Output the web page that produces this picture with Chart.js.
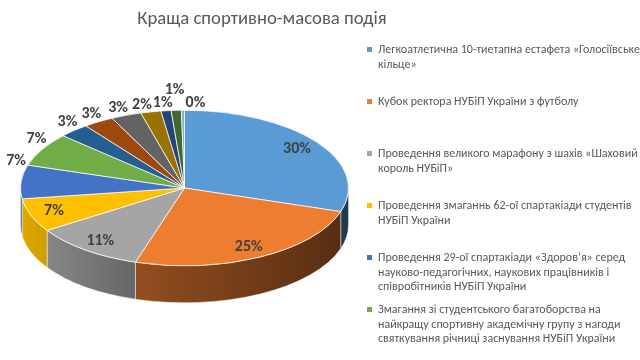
<!DOCTYPE html>
<html>
<head>
<meta charset="utf-8">
<script src="https://cdn.jsdelivr.net/npm/chart.js@4.4.0/dist/chart.umd.min.js"></script>
<style>
  html, body { margin: 0; padding: 0; background: #fff; }
  #wrap { position: relative; width: 640px; height: 360px; overflow: hidden; }
  #legend { position: absolute; left: 367px; top: 42px; width: 276px; font-family: Carlito, Roboto, sans-serif; font-size: 12px; color: #595959; }
  .item { position: relative; height: 52px; padding-left: 11px; line-height: 14.5px; }
  .item i { position: absolute; left: 0; top: 5px; width: 5px; height: 5px; }
</style>
</head>
<body>
<div id="wrap">
  <canvas id="chart" width="640" height="360"></canvas>
  <div id="legend"></div>
</div>
<script>
const title = 'Краща спортивно-масова подія';
const categories = [
  'Легкоатлетична 10-тиетапна естафета «Голосіївське кільце»',
  'Кубок ректора НУБіП України з футболу',
  'Проведення великого марафону з шахів «Шаховий король НУБіП»',
  'Проведення змаганнь 62-ої спартакіади студентів НУБіП України',
  'Проведення 29-ої спартакіади «Здоров’я» серед науково-педагогічних, наукових працівників і співробітників НУБіП України',
  'Змагання зі студентського багатоборства на найкращу спортивну академічну групу з нагоди святкування річниці заснування НУБіП України',
  'Подія 7', 'Подія 8', 'Подія 9', 'Подія 10', 'Подія 11', 'Подія 12', 'Подія 13'
];
const values = [30, 25, 11, 7, 7, 7, 3, 3, 3, 2, 1, 1, 0.3];
const colors = ['#5B9BD5', '#ED7D31', '#A5A5A5', '#FFC000', '#4472C4', '#70AD47',
                '#255E91', '#9E480E', '#636363', '#997300', '#264478', '#43682B', '#7CAFDD'];
const legendCount = 6; // the legend box only fits the first six entries

const TILT = 0.474;   // ellipse height / width of the top face
const FACE_CY = 188;  // screen y of the pie centre
const DEPTH = 37;     // thickness of the pie side

function shade(hex, f) {
  const n = parseInt(hex.slice(1), 16);
  const r = Math.round(((n >> 16) & 255) * f);
  const g = Math.round(((n >> 8) & 255) * f);
  const b = Math.round((n & 255) * f);
  return 'rgb(' + r + ',' + g + ',' + b + ')';
}

// draws the side walls, then squashes the library's pie into an ellipse
const pie3d = {
  id: 'pie3d',
  beforeDatasetsDraw(chart) {
    const ctx = chart.ctx;
    const arcs = chart.getDatasetMeta(0).data;
    const cx = arcs[0].x, cy = arcs[0].y, r = arcs[0].outerRadius;
    const ry = r * TILT;
    arcs.forEach((arc, i) => {
      const a1 = Math.max(arc.startAngle, 0);
      const a2 = Math.min(arc.endAngle, Math.PI);
      if (a2 <= a1) return;
      const grad = ctx.createLinearGradient(cx - r, 0, cx + r, 0);
      grad.addColorStop(0, shade(colors[i], 0.88));
      grad.addColorStop(0.33, shade(colors[i], 0.63));
      grad.addColorStop(1, shade(colors[i], 0.36));
      ctx.beginPath();
      ctx.ellipse(cx, FACE_CY, r, ry, 0, a1, a2);
      ctx.ellipse(cx, FACE_CY + DEPTH, r, ry, 0, a2, a1, true);
      ctx.closePath();
      ctx.fillStyle = grad;
      ctx.fill();
      ctx.strokeStyle = 'rgba(255,255,255,0.6)';
      ctx.lineWidth = 0.75;
      ctx.stroke();
    });
    ctx.save();
    ctx.translate(0, FACE_CY);
    ctx.scale(1, TILT);
    ctx.translate(0, -cy);
  },
  afterDatasetsDraw(chart) {
    const ctx = chart.ctx;
    ctx.restore();
    const arcs = chart.getDatasetMeta(0).data;
    const cx = arcs[0].x, r = arcs[0].outerRadius;
    const ry = r * TILT;
    const total = values.reduce((s, v) => s + v, 0);
    // highest point of the top face under a label spanning x0..x1
    const faceTop = (x0, x1) => {
      const x = x1 < cx ? x1 : (x0 > cx ? x0 : cx);
      const u = Math.min(1, Math.abs(x - cx) / r);
      return FACE_CY - ry * Math.sqrt(1 - u * u);
    };
    ctx.save();
    ctx.font = 'bold 16px Carlito, "Liberation Sans", sans-serif';
    ctx.fillStyle = '#404040';
    ctx.textAlign = 'center';
    ctx.textBaseline = 'middle';
    const placed = [];
    const hits = (x, y, w) => placed.some(p => Math.abs(p.x - x) < (p.w + w) / 2 && Math.abs(p.y - y) < 12);
    arcs.forEach((arc, i) => {
      const text = Math.round(values[i] / total * 100) + '%';
      const m = (arc.startAngle + arc.endAngle) / 2;
      const w = ctx.measureText(text).width;
      let x, y;
      if (values[i] / total >= 0.1 || Math.sin(m) > 0) {
        x = cx + 0.85 * r * Math.cos(m);
        y = FACE_CY + 0.85 * ry * Math.sin(m);
      } else {
        const at = (px, lift) => ({ x: px, y: faceTop(px - w / 2, px + w / 2) - 7 - lift });
        const bx = cx + r * Math.cos(m) - w / 2 + 5 * Math.abs(Math.cos(m));
        let pos = at(bx, 0);
        if (hits(pos.x, pos.y, w)) {
          let rx = bx;
          placed.forEach(p => {
            if (Math.abs(p.x - rx) < (p.w + w) / 2) rx = p.x + (p.w + w) / 2 + 1;
          });
          const tries = [];
          if (rx - bx <= 8) tries.push(at(rx, 0));
          tries.push(at(bx + 8, 13), at(rx, 0));
          pos = tries.find(t => !hits(t.x, t.y, w)) || tries[tries.length - 1];
        }
        x = pos.x;
        y = pos.y;
        placed.push({ x, y, w });
      }
      ctx.fillText(text, x, y);
    });
    ctx.restore();
  }
};

const titlePlugin = {
  id: 'excelTitle',
  afterDraw(chart) {
    const ctx = chart.ctx;
    ctx.save();
    ctx.font = '18.7px Carlito, "Liberation Sans", sans-serif';
    ctx.fillStyle = '#595959';
    ctx.textAlign = 'center';
    ctx.textBaseline = 'middle';
    ctx.fillText(title, 262, 19);
    ctx.restore();
  }
};

new Chart(document.getElementById('chart'), {
  type: 'pie',
  data: {
    labels: categories,
    datasets: [{
      data: values,
      backgroundColor: colors,
      borderColor: '#ffffff',
      borderWidth: 1,
    }],
  },
  options: {
    responsive: false,
    animation: false,
    layout: { padding: { left: 20, right: 291, top: 15, bottom: 15 } },
    plugins: {
      legend: { display: false },
      title: { display: false },
      tooltip: { enabled: false },
    },
  },
  plugins: [pie3d, titlePlugin],
});

const legend = document.getElementById('legend');
categories.slice(0, legendCount).forEach((name, i) => {
  const item = document.createElement('div');
  item.className = 'item';
  item.innerHTML = '<i style="background:' + colors[i] + '"></i>';
  item.appendChild(document.createTextNode(name));
  legend.appendChild(item);
});
</script>
</body>
</html>
